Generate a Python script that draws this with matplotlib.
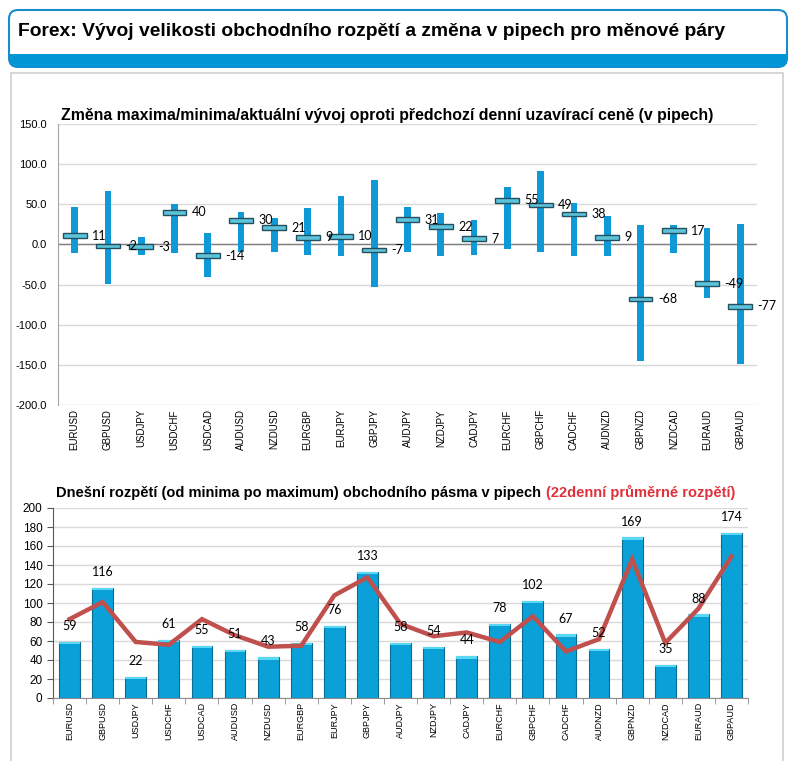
import matplotlib
matplotlib.use("Agg")
import matplotlib.pyplot as plt
import numpy as np
from matplotlib.patches import FancyBboxPatch, Rectangle

# Currency pairs
pairs = [
    "EURUSD", "GBPUSD", "USDJPY", "USDCHF", "USDCAD", "AUDUSD", "NZDUSD",
    "EURGBP", "EURJPY", "GBPJPY", "AUDJPY", "NZDJPY", "CADJPY", "EURCHF",
    "GBPCHF", "CADCHF", "AUDNZD", "GBPNZD", "NZDCAD", "EURAUD", "GBPAUD"
]

# Change vs previous close (pips): max, min, current
chg_high = [47, 66, 9, 50, 14, 41, 33, 45, 60, 80, 47, 39, 30, 72, 92, 52, 36, 24, 24, 20, 25]
chg_low = [-11, -49, -13, -11, -41, -10, -10, -13, -15, -53, -10, -14, -13, -6, -10, -14, -15, -145, -11, -67, -149]
chg_now = [11, -2, -3, 40, -14, 30, 21, 9, 10, -7, 31, 22, 7, 55, 49, 38, 9, -68, 17, -49, -77]

# Today's range and 22-day average range (pips)
range_today = [59, 116, 22, 61, 55, 51, 43, 58, 76, 133, 58, 54, 44, 78, 102, 67, 52, 169, 35, 88, 174]
range_avg22 = [83, 101, 59, 56, 83, 66, 54, 55, 108, 127, 78, 65, 69, 59, 86, 49, 62, 146, 58, 94, 149]

W, H = 795, 761
fig = plt.figure(figsize=(W / 100, H / 100), dpi=100)

# background layer in pixel coordinates
bg = fig.add_axes([0, 0, 1, 1], zorder=-5)
bg.set_xlim(0, W)
bg.set_ylim(H, 0)
bg.axis("off")

head = FancyBboxPatch((9, 10), 778, 57, boxstyle="round,pad=0,rounding_size=9",
                      facecolor="white", edgecolor="#1a8ccc", linewidth=1.5)
bg.add_patch(head)
band = Rectangle((0, 54), W, 20, facecolor="#0096d6", edgecolor="none")
bg.add_patch(band)
band.set_clip_path(head)
bg.add_patch(Rectangle((10.5, 73), 772, 700, facecolor="white", edgecolor="#cfcfcf", linewidth=1.2))
bg.text(18, 31, "Forex: Vývoj velikosti obchodního rozpětí a změna v pipech pro měnové páry",
        fontsize=13.9, fontweight="bold", va="center", ha="left", family="Liberation Sans")

x = np.arange(len(pairs))

def px_axes(left, top, right, bottom):
    return fig.add_axes([left / W, 1 - bottom / H, (right - left) / W, (bottom - top) / H])

# ---- top chart ----
ax1 = px_axes(58, 124, 757, 405)
ax1.set_xlim(-0.5, len(pairs) - 0.5)
ax1.set_ylim(-200, 150)
ax1.set_yticks(np.arange(-200, 151, 50))
ax1.set_yticklabels([f"{v:.1f}" for v in np.arange(-200, 151, 50)], fontsize=8,
                    family="Liberation Sans")
ax1.grid(axis="y", color="#d9d9d9", linewidth=1)
ax1.set_axisbelow(True)
ax1.axhline(0, color="#7f7f7f", linewidth=1, zorder=1)
for s in ["top", "right", "bottom"]:
    ax1.spines[s].set_visible(False)
ax1.spines["left"].set_color("#a6a6a6")
ax1.tick_params(length=0, pad=8)
ax1.set_xticks(x)
ax1.set_xticklabels(pairs, rotation=90, fontsize=7, family="Liberation Sans")
ax1.tick_params(axis="x", pad=3)

hi = np.array(chg_high)
lo = np.array(chg_low)
now = np.array(chg_now)
ax1.bar(x, hi - lo, bottom=lo, width=0.2, color="#0f99d6", zorder=2)
ax1.bar(x, 6, bottom=now - 3, width=0.72, color="#5cc3dd", edgecolor="#24505c",
        linewidth=1, zorder=3)
for xi, v in zip(x, chg_now):
    ax1.text(xi + 0.52, v, f"{v}", fontsize=9, va="center", ha="left", zorder=4,
             family="Lato")
ax1.set_title("Změna maxima/minima/aktuální vývoj oproti předchozí denní uzavírací ceně (v pipech)",
              fontsize=11.4, fontweight="bold", loc="left", x=0.005, pad=3,
              family="Liberation Sans")

# ---- bottom chart ----
ax2 = px_axes(53, 508, 748, 698)
ax2.set_xlim(-0.5, len(pairs) - 0.5)
ax2.set_ylim(0, 200)
ax2.set_yticks(np.arange(0, 201, 20))
ax2.tick_params(axis="y", labelsize=8.5, length=4, color="#595959")
for lab in ax2.get_yticklabels():
    lab.set_family("Liberation Sans")
ax2.grid(axis="y", color="#d9d9d9", linewidth=1)
ax2.set_axisbelow(True)
for s in ["top", "right"]:
    ax2.spines[s].set_visible(False)
ax2.spines["left"].set_color("#595959")
ax2.spines["bottom"].set_color("#8c8c8c")
ax2.set_xticks(x)
ax2.set_xticklabels(pairs, rotation=90, fontsize=6.5, family="Liberation Sans")
ax2.set_xticks(np.arange(-0.5, len(pairs), 1), minor=True)
ax2.tick_params(axis="x", which="major", length=0, pad=3)
ax2.tick_params(axis="x", which="minor", length=4, color="#8c8c8c")

ax2.bar(x, range_today, width=0.63, color="#0aa0d8", edgecolor="#0b6d93", linewidth=0.8, zorder=2)
ax2.bar(x, 2.5, bottom=np.array(range_today) - 2.5, width=0.63, color="#5ad7f2",
        edgecolor="none", zorder=3)
ax2.plot(x, range_avg22, color="#c0504d", linewidth=3.2, zorder=4, solid_joinstyle="miter")
for xi, v in zip(x, range_today):
    ax2.annotate(f"{v}", (xi, v), xytext=(0, 7), textcoords="offset points",
                 ha="center", va="bottom", fontsize=9, family="Lato", zorder=5)

t1 = ax2.text(0.005, 1.04, "Dnešní rozpětí (od minima po maximum) obchodního pásma v pipech ",
              transform=ax2.transAxes, fontsize=10.5, fontweight="bold",
              family="Liberation Sans", va="bottom", ha="left")
ax2.annotate("(22denní průměrné rozpětí)", xy=(1, 0), xycoords=t1, va="bottom", ha="left",
             fontsize=10.5, fontweight="bold", color="#e0303a", family="Liberation Sans")

fig.savefig("out.png", dpi=100)
